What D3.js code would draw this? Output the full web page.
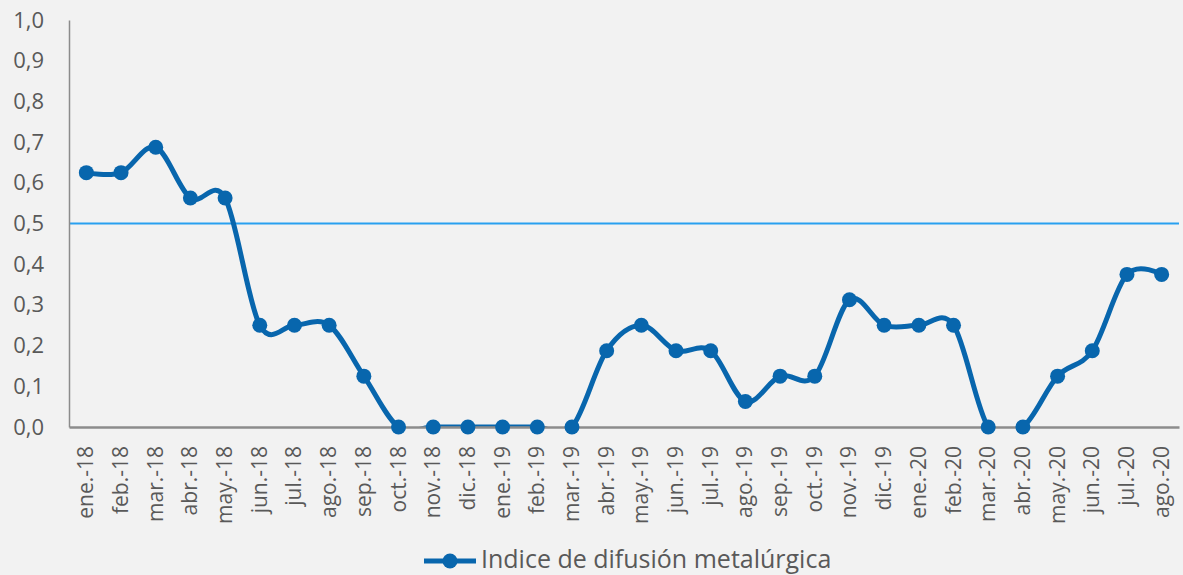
<!DOCTYPE html>
<html><head><meta charset="utf-8">
<script src="https://cdn.jsdelivr.net/npm/d3@7"></script>
<style>
html,body{margin:0;padding:0;background:#f2f2f2;}
svg{display:block;font-family:"Open Sans",sans-serif;}
</style></head>
<body><svg id="c" width="1183" height="575"></svg>
<script>
const categories = ["ene.-18","feb.-18","mar.-18","abr.-18","may.-18","jun.-18","jul.-18","ago.-18","sep.-18","oct.-18","nov.-18","dic.-18","ene.-19","feb.-19","mar.-19","abr.-19","may.-19","jun.-19","jul.-19","ago.-19","sep.-19","oct.-19","nov.-19","dic.-19","ene.-20","feb.-20","mar.-20","abr.-20","may.-20","jun.-20","jul.-20","ago.-20"];
const values = [0.625,0.625,0.6875,0.5625,0.5625,0.25,0.25,0.25,0.125,0,0,0,0,0,0,0.1875,0.25,0.1875,0.1875,0.0625,0.125,0.125,0.3125,0.25,0.25,0.25,0,0,0.125,0.1875,0.375,0.375];
const yTicks = [0,0.1,0.2,0.3,0.4,0.5,0.6,0.7,0.8,0.9,1.0];
const refValue = 0.5;
const seriesName = "Indice de difusión metalúrgica";

const svg = d3.select("#c");
const L = 69, R = 1179, T = 20, B = 427;
const x = d3.scaleBand().domain(categories).range([L, R]);
const y = d3.scaleLinear().domain([0, 1]).range([B, T]);
const cx = d => x(d) + x.bandwidth()/2;
const fmt = v => d3.format(".1f")(v).replace(".", ",");
const blue = "#0866ad";

// reference line
svg.append("line").attr("x1", L).attr("x2", R).attr("y1", y(refValue)).attr("y2", y(refValue))
  .attr("stroke", "#28a0f0").attr("stroke-width", 2);

// Y axis
const ya = svg.append("g").attr("transform", `translate(${L},0)`)
  .call(d3.axisLeft(y).tickValues(yTicks).tickFormat(fmt).tickSize(0).tickPadding(25));
ya.select(".domain").attr("stroke", "#8c8c8c").attr("stroke-width", 1.5);
ya.selectAll("text").attr("font-size", 22).attr("fill", "#595959").attr("font-family", "Open Sans");

// clip
svg.append("clipPath").attr("id", "clip").append("rect")
  .attr("x", L).attr("y", 0).attr("width", R - L + 10).attr("height", B + 1);

const line = d3.line().x((d, i) => cx(categories[i])).y(d => y(d)).curve(d3.curveCardinal.tension(0));
svg.append("path").datum(values).attr("d", line).attr("fill", "none")
  .attr("stroke", blue).attr("stroke-width", 5).attr("stroke-linejoin", "round")
  .attr("clip-path", "url(#clip)");

// X axis
const xa = svg.append("g").attr("transform", `translate(0,${B})`)
  .call(d3.axisBottom(x).tickSize(0).tickPadding(0));
xa.select(".domain").attr("stroke", "#8c8c8c").attr("stroke-width", 2.5);
xa.selectAll("text")
  .attr("font-size", 21).attr("fill", "#595959").attr("font-family", "Open Sans")
  .attr("text-anchor", "end").attr("dy", 0)
  .attr("transform", "translate(7,19) rotate(-90)")
  .attr("y", 0).attr("x", 0);

svg.selectAll("circle.pt").data(values).join("circle").attr("class", "pt")
  .attr("cx", (d, i) => cx(categories[i])).attr("cy", d => y(d)).attr("r", 7.5).attr("fill", blue);

// legend
const lg = svg.append("g");
lg.append("line").attr("x1", 424).attr("x2", 476).attr("y1", 561).attr("y2", 561)
  .attr("stroke", blue).attr("stroke-width", 5);
lg.append("circle").attr("cx", 450).attr("cy", 561).attr("r", 7.5).attr("fill", blue);
lg.append("text").attr("x", 481).attr("y", 568).attr("font-size", 25).attr("fill", "#595959")
  .attr("font-family", "Open Sans").text(seriesName);
</script></body></html>
